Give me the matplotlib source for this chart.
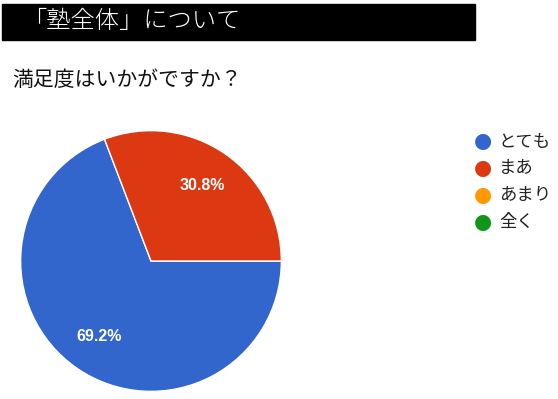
import matplotlib.pyplot as plt
from matplotlib.patches import Rectangle

plt.rcParams['font.family'] = ['Noto Sans CJK JP', 'DejaVu Sans']

header = "「塾全体」について"
question = "満足度はいかがですか？"
labels = ["とても", "まあ", "あまり", "全く"]
values = [69.2, 30.8, 0, 0]
colors = ["#3366CC", "#DC3912", "#FF9900", "#109618"]

W, H = 558, 399
fig = plt.figure(figsize=(W / 100, H / 100), dpi=100)

def fx(px):
    return px / W

def fy(py):
    return 1 - py / H

# bandeau noir du titre
fig.patches.append(Rectangle((fx(2), fy(40)), fx(473), 36 / H,
                             transform=fig.transFigure, color="black", zorder=0))
fig.text(fx(22), fy(22), header, color="white", fontsize=17.5, va="center", ha="left",
         fontweight="light")
fig.text(fx(12), fy(80), question, color="#111111", fontsize=15, va="center", ha="left")

# camembert
ax = fig.add_axes([fx(20), fy(392), 262 / W, 262 / H])
nz = [(v, c) for v, c in zip(values, colors) if v > 0]
wedges, texts, autotexts = ax.pie(
    [v for v, c in nz], colors=[c for v, c in nz], startangle=0, counterclock=False,
    autopct="%.1f%%", pctdistance=0.7, radius=1,
    wedgeprops=dict(edgecolor="white", linewidth=1))
for t in autotexts:
    t.set_color("white")
    t.set_fontsize(11.5)
    t.set_fontweight("bold")
    t.set_family("Liberation Sans")
ax.set_xlim(-1.005, 1.005)
ax.set_ylim(-1.005, 1.005)
ax.set_aspect("equal")
ax.axis("off")

# légende
for i, (lab, col) in enumerate(zip(labels, colors)):
    y = 141.5 + i * 26.8
    fig.text(fx(483), fy(y), "●", color=col, fontsize=15, ha="center", va="center",
             family="DejaVu Sans")
    fig.text(fx(499), fy(y), lab, color="#222222", fontsize=12.5, ha="left", va="center")

fig.savefig("out.png", dpi=100)
